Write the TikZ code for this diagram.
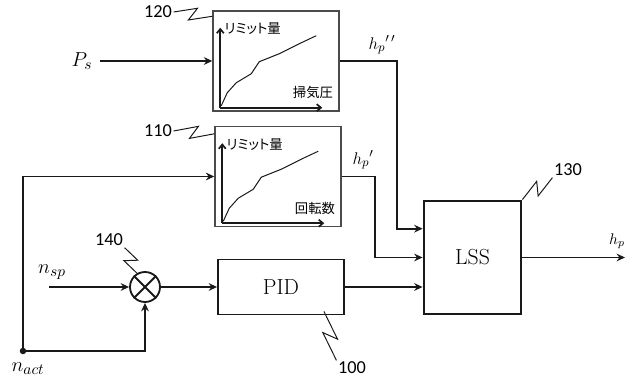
\documentclass[tikz,border=0pt]{standalone}
\usepackage{fontspec}
\newfontfamily\jpfont[RawFeature=+palt]{Noto Sans CJK JP}
\newfontfamily\numfont{Carlito}
\definecolor{lssblack}{RGB}{25,25,25}
\definecolor{lssgray} {RGB}{75,75,75}
\usetikzlibrary{arrows.meta,calc}
\tikzset{
  blk/.style={rectangle,draw=lssblack,line width=1.3pt,inner sep=0pt,
              font=\fontsize{15.5}{18}\selectfont},
  mapbox/.style={rectangle,draw=lssgray,line width=1pt,
                 minimum width=3.15cm,minimum height=2.5cm},
  sumnode/.style={circle,draw=lssblack,line width=1.3pt,
                  minimum size=0.75cm,inner sep=0pt},
  arr/.style={-{Stealth[length=6pt,width=5.5pt,inset=2pt]},line width=1.3pt,lssblack},
  axarr/.style={-{Straight Barb[length=3pt,width=5pt]},line width=1.2pt,lssblack},
  curve/.style={line width=0.7pt,lssblack},
  leader/.style={line width=0.7pt,lssblack},
  ref/.style={font=\numfont\fontsize{13}{15}\selectfont,inner sep=1pt},
  sig/.style={font=\fontsize{15}{17}\selectfont,inner sep=1pt},
  jp/.style={font=\jpfont\fontsize{9.5}{10}\selectfont,inner sep=0pt},
}
\newcommand{\zigleader}[2]{%
  \draw[leader] (#1) -- ($(#1)!0.6!(#2)!4.5pt!90:(#2)$)
    -- ($(#1)!0.4!(#2)!4.5pt!-90:(#2)$) -- (#2);}

\begin{document}
\begin{tikzpicture}[x=0.025cm,y=-0.025cm]
  \useasboundingbox (0,0) rectangle (632,385);

  \foreach \nm/\cx/\cy/\xlab in {map120/276/61/掃気圧, map110/278/176.5/回転数}{
    \node[mapbox] (\nm) at (\cx,\cy) {};
    \begin{scope}[shift={(\nm.south west)}]
      \draw[axarr] (8,-4) -- (8,-84);
      \draw[axarr] (8,-4) -- (110,-4);
      \draw[curve] (9,-6) -- (15,-19) -- (24,-29) -- (39,-38) -- (47,-50)
                   -- (67,-58) -- (87,-68) -- (104,-76);
      \node[jp,anchor=west] at (12,-83) {リミット量};
      \node[jp,anchor=east] at (121,-19) {\xlab};
    \end{scope}
  }

  \node[sumnode] (sum) at (145,287) {};
  \draw[line width=1.3pt,lssblack] (sum.north west) -- (sum.south east)
                                   (sum.north east) -- (sum.south west);
  \node[blk,minimum width=3.15cm,minimum height=1.375cm] (pid) at (281,287) {PID};
  \node[blk,line width=2pt,minimum width=2.425cm,minimum height=2.825cm]
        (lss) at (472.5,257.5) {LSS};

  \node[sig,inner sep=5pt] (ps) at (82,61) {$P_s$};
  \node[sig] (nsp) at (52,272) {$n_{sp}$};
  \node[sig] (nactlbl) at (28,369) {$n_{act}$};
  \node[sig,font=\fontsize{13}{15}\selectfont] (hpdd) at (382,45) {$h_p{}^{\prime\,\prime}$};
  \node[sig,font=\fontsize{13}{15}\selectfont] (hpd) at (363,160) {$h_p{}^{\prime}$};
  \node[sig,font=\fontsize{11}{13}\selectfont] (hp) at (617,241) {$h_p$};

  \coordinate (nspin) at (49,287);
  \coordinate (nact) at (23,351);
  \coordinate (hpout) at (625,257.5);
  \fill[lssblack] (nact) circle (2.3pt);

  \draw[arr] (ps.east) -- (map120.west);
  \draw[arr] (nact) |- (map110.west);
  \draw[arr] (nact) -| (sum.south);
  \draw[arr] (nspin) -- (sum.west);
  \draw[arr] (sum.east) -- (pid.west);
  \draw[arr] (pid.east) -- (pid.east -| lss.west);
  \draw[arr] (map120.east) -- ++(57,0) |- ([yshift=0.72cm]lss.west);
  \draw[arr] (map110.east) -- ++(33,0) |- (lss.west);
  \draw[arr] (lss.east) -- (hpout);

  \node[ref] (l120) at (158,12) {120};
  \node[ref] (l110) at (158,131) {110};
  \node[ref] (l140) at (109,240) {140};
  \node[ref] (l130) at (568,170) {130};
  \node[ref] (l100) at (352,368) {100};
  \coordinate (t120) at ([yshift=-0.15cm]map120.north west);
  \coordinate (t110) at ([yshift=-0.2cm]map110.north west);
  \coordinate (t100) at ([xshift=-0.525cm,yshift=0.1cm]pid.south east);
  \zigleader{l120.east}{t120}
  \zigleader{l110.east}{t110}
  \zigleader{l140.south east}{sum.120}
  \zigleader{lss.north east}{l130.south west}
  \zigleader{t100}{l100.north west}
\end{tikzpicture}
\end{document}
